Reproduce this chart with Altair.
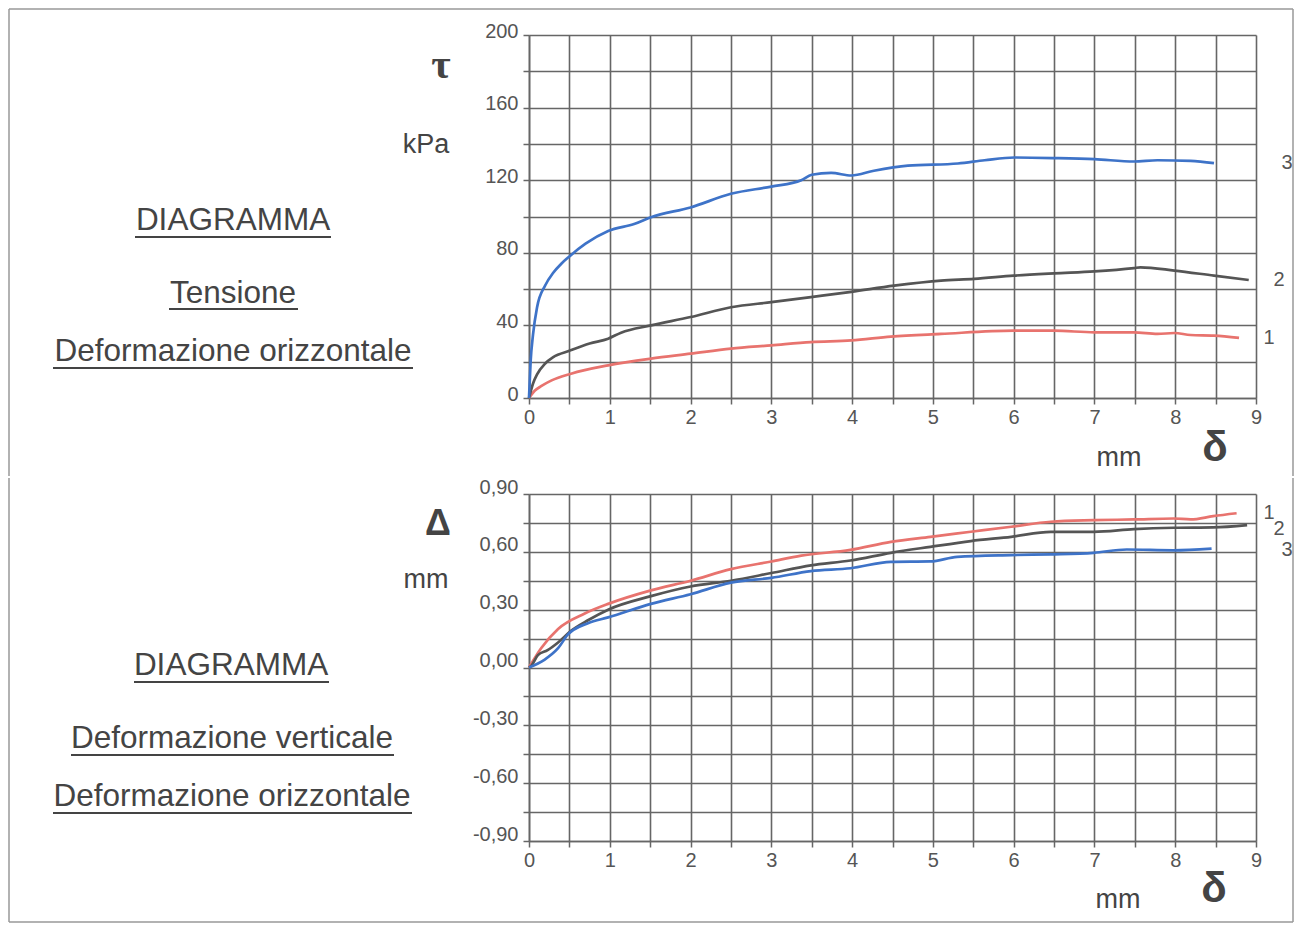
import altair as alt
import pandas as pd

# ---------------- data ----------------
# Top diagram: shear stress tau (kPa) vs horizontal displacement delta (mm)
x1 = [0, 0.07, 0.15, 0.28, 0.52, 0.98, 1.51, 2.0, 2.5, 3.0, 3.49, 3.99, 4.48, 5.1, 6.0, 6.5, 7.0, 7.49, 7.78, 7.99, 8.19, 8.48, 8.79]
tau1 = [0, 4, 6.5, 9.7, 13.4, 18, 21.7, 24.4, 27.2, 29, 30.8, 31.7, 33.8, 35.3, 37.1, 37.1, 36.2, 36.2, 35.3, 35.8, 34.7, 34.4, 33.1]

x2 = [0, 0.05, 0.1, 0.2, 0.3, 0.5, 0.75, 0.98, 1.14, 1.51, 2.0, 2.5, 3.0, 3.49, 3.99, 4.52, 5.1, 5.51, 6.0, 6.5, 7.0, 7.49, 7.57, 7.99, 8.48, 8.91]
tau2 = [0, 8, 13, 19, 22.5, 26, 30, 32.7, 36, 40, 44.6, 50, 52.8, 55.6, 58.5, 61.9, 64.7, 65.6, 67.4, 68.7, 69.8, 71.6, 72, 70.2, 67.4, 65]

x3 = [0, 0.02, 0.05, 0.1, 0.2, 0.3, 0.4, 0.5, 0.7, 0.98, 1.31, 1.51, 2.0, 2.5, 3.0, 3.37, 3.5, 3.74, 3.99, 4.27, 4.69, 5.31, 5.64, 6.01, 6.5, 7.0, 7.49, 7.78, 8.19, 8.48]
tau3 = [0, 20, 35, 50, 62, 69, 74, 78, 85, 92, 96, 99.6, 105, 112.5, 116.5, 120, 123, 124, 122.6, 125.2, 128, 129.2, 131, 132.5, 132.2, 131.6, 130.3, 131, 130.7, 129.4]

# Bottom diagram: vertical displacement Delta (mm) vs horizontal displacement delta (mm)
dx1 = [0, 0.15, 0.36, 0.69, 0.98, 1.51, 2.0, 2.5, 3.0, 3.37, 3.98, 4.48, 4.97, 5.47, 5.97, 6.46, 6.99, 7.49, 7.98, 8.19, 8.47, 8.76]
dv1 = [0, 0.10, 0.20, 0.28, 0.33, 0.40, 0.45, 0.51, 0.55, 0.58, 0.61, 0.652, 0.678, 0.704, 0.73, 0.756, 0.764, 0.768, 0.773, 0.768, 0.785, 0.80]

dx2 = [0, 0.03, 0.11, 0.23, 0.36, 0.52, 0.73, 0.98, 1.51, 2.0, 2.5, 3.0, 3.49, 3.98, 4.48, 4.97, 5.47, 5.97, 6.46, 6.99, 7.49, 7.98, 8.47, 8.89]
dv2 = [0, 0.01, 0.064, 0.09, 0.13, 0.19, 0.245, 0.30, 0.37, 0.42, 0.45, 0.49, 0.53, 0.555, 0.595, 0.626, 0.656, 0.678, 0.704, 0.704, 0.718, 0.725, 0.727, 0.739]

dx3 = [0, 0.19, 0.36, 0.48, 0.73, 0.98, 1.51, 2.0, 2.5, 3.0, 3.49, 3.98, 4.48, 4.97, 5.30, 5.97, 6.46, 6.99, 7.4, 7.98, 8.45]
dv3 = [0, 0.04, 0.10, 0.17, 0.23, 0.26, 0.33, 0.38, 0.44, 0.465, 0.50, 0.515, 0.548, 0.55, 0.574, 0.583, 0.587, 0.595, 0.612, 0.608, 0.617]

series = ["1", "2", "3"]
colors = ["#e8736e", "#555555", "#3e73c8"]

x_grid = [i * 0.5 for i in range(19)]
tau_grid = list(range(0, 201, 20))
dv_grid = [round(-0.9 + 0.15 * i, 2) for i in range(13)]

# ---------------- helpers ----------------
TXT = "#444444"
GRID = "#666666"
FONT = "Liberation Sans"
CAP = 31.5


def one():
    return alt.Data(values=[{"k": 0}])


def txt(s, x, y, size, font=FONT, weight="normal", color=TXT, align="center", baseline="alphabetic"):
    return alt.Chart(one()).mark_text(
        text=s, font=font, fontSize=size, fontWeight=weight, color=color,
        align=align, baseline=baseline
    ).encode(x=alt.value(x), y=alt.value(y))


def hline(xa, xb, y, color=TXT, w=2.2):
    return alt.Chart(one()).mark_rule(color=color, strokeWidth=w).encode(
        x=alt.value(xa), x2=alt.value(xb), y=alt.value(y))


def vline(x, ya, yb, color="#999999", w=1.5):
    return alt.Chart(one()).mark_rule(color=color, strokeWidth=w).encode(
        x=alt.value(x), y=alt.value(ya), y2=alt.value(yb))


x_axis = alt.Axis(
    values=x_grid, title=None,
    labelExpr="datum.value % 1 == 0 ? toString(datum.value) : ''",
    labelOverlap=False, labelFlush=False, labelPadding=3,
)

color_enc = alt.Color("s:N", scale=alt.Scale(domain=series, range=colors), legend=None)

# ---------------- top diagram ----------------
top_df = pd.concat([
    pd.DataFrame({"x": x1, "y": tau1, "s": "1"}),
    pd.DataFrame({"x": x2, "y": tau2, "s": "2"}),
    pd.DataFrame({"x": x3, "y": tau3, "s": "3"}),
])

top_lines = alt.Chart(top_df).mark_line(strokeWidth=2.7, interpolate="monotone").encode(
    x=alt.X("x:Q", scale=alt.Scale(domain=[0, 9], nice=False, zero=False), axis=x_axis),
    y=alt.Y("y:Q", scale=alt.Scale(domain=[0, 200], nice=False),
            axis=alt.Axis(values=tau_grid, title=None,
                          labelExpr="datum.value % 40 == 0 ? toString(datum.value) : ''",
                          labelOverlap=False, labelFlush=False, labelOffset=-4, labelPadding=5)),
    color=color_enc,
    detail="s:N",
)

top = alt.layer(
    top_lines,
    # frame (upper part)
    hline(-520, 764, -26, color="#999999", w=1.5),
    vline(-520, -26, 441),
    vline(764, -26, 441),
    # axis symbols
    txt("τ", -88, 43, 42, font="Liberation Serif", weight="bold"),
    txt("kPa", -103, 118, 27),
    txt("mm", 590, 431, 27),
    txt("δ", 686, 426, 42, weight="bold"),
    # curve numbers
    txt("3", 758, 128, 20, baseline="middle", color="#555555"),
    txt("2", 750, 245, 20, baseline="middle", color="#555555"),
    txt("1", 740, 303, 20, baseline="middle", color="#555555"),
    # left captions
    txt("DIAGRAMMA", -296, 195, CAP),
    hline(-394, -198, 202),
    txt("Tensione", -296, 268, CAP),
    hline(-360, -231, 274),
    txt("Deformazione orizzontale", -296, 326, CAP),
    hline(-476, -116, 333),
).properties(width=727, height=363)

# ---------------- bottom diagram ----------------
bot_df = pd.concat([
    pd.DataFrame({"x": dx1, "y": dv1, "s": "1"}),
    pd.DataFrame({"x": dx2, "y": dv2, "s": "2"}),
    pd.DataFrame({"x": dx3, "y": dv3, "s": "3"}),
])

bot_lines = alt.Chart(bot_df).mark_line(strokeWidth=2.7, interpolate="monotone").encode(
    x=alt.X("x:Q", scale=alt.Scale(domain=[0, 9], nice=False, zero=False), axis=x_axis),
    y=alt.Y("y:Q", scale=alt.Scale(domain=[-0.9, 0.9], nice=False, zero=False),
            axis=alt.Axis(values=dv_grid, title=None,
                          labelExpr="round(datum.value * 100) % 30 == 0 ? replace(replace(format(datum.value, '.2f'), '.', ','), '−', '-') : ''",
                          labelOverlap=False, labelFlush=False, labelOffset=-7, labelPadding=5)),
    color=color_enc,
    detail="s:N",
)

bottom = alt.layer(
    bot_lines,
    # frame (lower part)
    vline(-520, -16, 428),
    vline(764, -16, 428),
    hline(-520, 764, 428, color="#999999", w=1.5),
    # axis symbols
    txt("Δ", -91, 41, 36, weight="bold"),
    txt("mm", -103, 94, 27),
    txt("mm", 589, 414, 27),
    txt("δ", 685, 408, 42, weight="bold"),
    # curve numbers
    txt("1", 740, 19, 20, baseline="middle", color="#555555"),
    txt("2", 750, 35, 20, baseline="middle", color="#555555"),
    txt("3", 758, 56, 20, baseline="middle", color="#555555"),
    # left captions
    txt("DIAGRAMMA", -298, 181, CAP),
    hline(-395, -200, 188),
    txt("Deformazione verticale", -297, 254, CAP),
    hline(-458, -135, 261),
    txt("Deformazione orizzontale", -297, 312, CAP),
    hline(-476, -117, 319),
).properties(width=727, height=347)

chart = alt.vconcat(top, bottom, spacing=0).properties(
    padding=0, background="white"
).configure_view(
    stroke=None
).configure_axis(
    labelFont=FONT, labelFontSize=20, labelColor="#555555",
    grid=True, gridColor=GRID, gridWidth=1.6, gridOpacity=1,
    domainColor=GRID, domainWidth=1.6,
    tickColor=GRID, tickWidth=1.5, tickSize=6,
)

chart.save("out.html", embed_options={"renderer": "svg", "actions": False})
